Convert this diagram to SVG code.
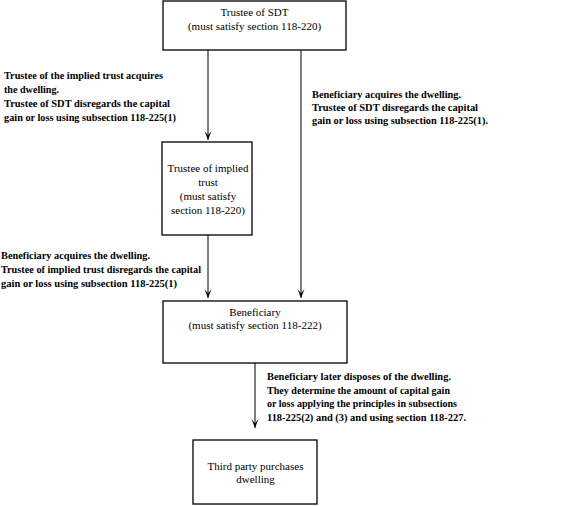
<svg xmlns="http://www.w3.org/2000/svg" width="580" height="506" viewBox="0 0 580 506">
<style>
.box{fill:#fff;stroke:#000;stroke-width:1.3}
.nt{font-family:'Liberation Serif','DejaVu Serif','Times New Roman',Times,serif;font-size:11px;fill:#000;text-anchor:middle}
.lb{font-family:'Liberation Serif','DejaVu Serif','Times New Roman',Times,serif;font-size:11px;font-weight:bold;fill:#000}
.con{fill:none;stroke:#000;stroke-width:1}
</style>
<defs>
<marker id="arr" viewBox="-10 -5 11 10" refX="0" refY="0" markerWidth="11" markerHeight="10" markerUnits="userSpaceOnUse" orient="auto">
<path d="M0,0 L-9,-3.5 L-4.5,0 L-9,3.5 Z" fill="#000"/>
</marker>
</defs>
<rect width="580" height="506" fill="#fff"/>
<g id="connectors">
<line class="con" x1="208" y1="50" x2="208" y2="140" marker-end="url(#arr)"/>
<line class="con" x1="301" y1="50" x2="301" y2="298" marker-end="url(#arr)"/>
<line class="con" x1="208" y1="235" x2="208" y2="298" marker-end="url(#arr)"/>
<line class="con" x1="255" y1="363" x2="255" y2="428" marker-end="url(#arr)"/>
</g>
<g id="node-trustee-sdt">
<rect class="box" x="163" y="1" width="183" height="49"/>
<text class="nt" x="254.5" y="16" font-family="Liberation Serif, serif">Trustee of SDT</text>
<text class="nt" x="254.5" y="30" font-family="Liberation Serif, serif">(must satisfy section 118-220)</text>
</g>
<g id="node-trustee-implied">
<rect class="box" x="162" y="142" width="90" height="93"/>
<text class="nt" x="208" y="172">Trustee of implied</text>
<text class="nt" x="208" y="186">trust</text>
<text class="nt" x="208" y="200">(must satisfy</text>
<text class="nt" x="208" y="214">section 118-220)</text>
</g>
<g id="node-beneficiary">
<rect class="box" x="163" y="301" width="184" height="62"/>
<text class="nt" x="255" y="316">Beneficiary</text>
<text class="nt" x="255" y="329">(must satisfy section 118-222)</text>
</g>
<g id="node-third-party">
<rect class="box" x="193" y="440" width="124" height="64"/>
<text class="nt" x="255.5" y="470">Third party purchases</text>
<text class="nt" x="255.5" y="483">dwelling</text>
</g>
<g id="labels">
<text class="lb" x="4" y="79" textLength="159" lengthAdjust="spacingAndGlyphs">Trustee of the implied trust acquires</text>
<text class="lb" x="4" y="93" textLength="55" lengthAdjust="spacingAndGlyphs">the dwelling.</text>
<text class="lb" x="4" y="107" textLength="166" lengthAdjust="spacingAndGlyphs">Trustee of SDT disregards the capital</text>
<text class="lb" x="4" y="121" textLength="172" lengthAdjust="spacingAndGlyphs">gain or loss using subsection 118-225(1)</text>
<text class="lb" x="312" y="98" textLength="149" lengthAdjust="spacingAndGlyphs">Beneficiary acquires the dwelling.</text>
<text class="lb" x="312" y="111" textLength="166" lengthAdjust="spacingAndGlyphs">Trustee of SDT disregards the capital</text>
<text class="lb" x="312" y="124" textLength="176" lengthAdjust="spacingAndGlyphs">gain or loss using subsection 118-225(1).</text>
<text class="lb" x="1" y="259" textLength="149" lengthAdjust="spacingAndGlyphs">Beneficiary acquires the dwelling.</text>
<text class="lb" x="1" y="273" textLength="200" lengthAdjust="spacingAndGlyphs">Trustee of implied trust disregards the capital</text>
<text class="lb" x="1" y="287" textLength="176" lengthAdjust="spacingAndGlyphs">gain or loss using subsection 118-225(1)</text>
<text class="lb" x="267" y="380" textLength="184" lengthAdjust="spacingAndGlyphs">Beneficiary later disposes of the dwelling.</text>
<text class="lb" x="267" y="394" textLength="183" lengthAdjust="spacingAndGlyphs">They determine the amount of capital gain</text>
<text class="lb" x="267" y="407" textLength="190" lengthAdjust="spacingAndGlyphs">or loss applying the principles in subsections</text>
<text class="lb" x="267" y="421" textLength="199" lengthAdjust="spacingAndGlyphs">118-225(2) and (3) and using section 118-227.</text>
</g>
</svg>
